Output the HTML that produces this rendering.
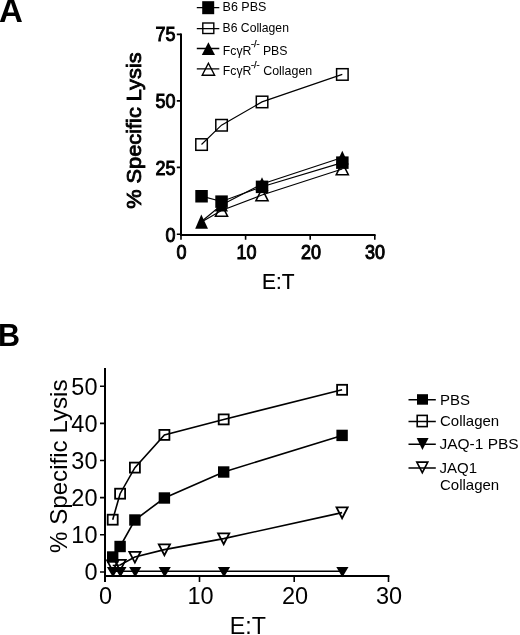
<!DOCTYPE html>
<html><head><meta charset="utf-8">
<style>
html,body{margin:0;padding:0;background:#fff;}
body{width:520px;height:635px;overflow:hidden;}
svg{display:block;filter:grayscale(1);}
text{font-family:"Liberation Sans",sans-serif;fill:#000;}
</style></head>
<body>
<svg width="520" height="635" viewBox="0 0 520 635">
<rect width="520" height="635" fill="#fff"/>
<text transform="translate(-0.90,21.90) scale(1.1,1.09)" font-size="30" font-weight="bold">A</text>
<g stroke="#000" fill="none">
<path d="M181 33.6 V235.5" stroke-width="2"/>
<path d="M180 235 H375.6" stroke-width="2"/>
<path d="M176.8 34.4 H181 M176.8 100.9 H181 M176.8 167.4 H181 M176.8 234.2 H181" stroke-width="1.6"/>
<path d="M181 235 V239.8 M245.6 235 V239.8 M310.2 235 V239.8 M374.8 235 V239.8" stroke-width="1.6"/>
</g>
<text transform="translate(175.60,41.00) scale(0.9,1)" font-size="20" text-anchor="end" stroke="#000" stroke-width="1">75</text>
<text transform="translate(175.60,108.20) scale(0.9,1)" font-size="20" text-anchor="end" stroke="#000" stroke-width="1">50</text>
<text transform="translate(175.60,175.00) scale(0.9,1)" font-size="20" text-anchor="end" stroke="#000" stroke-width="1">25</text>
<text transform="translate(175.60,241.50) scale(0.9,1)" font-size="20" text-anchor="end" stroke="#000" stroke-width="1">0</text>
<text transform="translate(181.60,258.60) scale(0.9,1)" font-size="20" text-anchor="middle" stroke="#000" stroke-width="1">0</text>
<text transform="translate(246.60,258.60) scale(0.9,1)" font-size="20" text-anchor="middle" stroke="#000" stroke-width="1">10</text>
<text transform="translate(311.00,258.60) scale(0.9,1)" font-size="20" text-anchor="middle" stroke="#000" stroke-width="1">20</text>
<text transform="translate(375.10,258.60) scale(0.9,1)" font-size="20" text-anchor="middle" stroke="#000" stroke-width="1">30</text>
<text transform="translate(262.00,289.30) scale(0.95,1)" font-size="22" stroke="#000" stroke-width="0.2">E:T</text>
<text transform="translate(141.00,208.80) rotate(-90)" font-size="20.3" stroke="#000" stroke-width="0.85" textLength="156.4" lengthAdjust="spacingAndGlyphs">% Specific Lysis</text>
<g stroke="#000" stroke-width="1.3" fill="none"><path d="M196.8 7.7 H219.3 M196.8 28.6 H219.3 M196.8 48.5 H219.3 M196.8 68.8 H219.3"/></g>
<rect x="202.2" y="1.2" width="12" height="13" fill="#000"/>
<rect x="202.8" y="23" width="11" height="10.5" fill="none" stroke="#000" stroke-width="1.4"/>
<path d="M208.4 42.2 L215 55.1 L201.8 55.1 Z" fill="#000"/>
<path d="M208.4 63.2 L214.6 75.3 L202.2 75.3 Z" fill="none" stroke="#000" stroke-width="1.4"/>
<text transform="translate(222.60,11.20)" font-size="13.3" textLength="43.8" lengthAdjust="spacingAndGlyphs">B6 PBS</text>
<text transform="translate(222.60,32.20)" font-size="13.3" textLength="66.3" lengthAdjust="spacingAndGlyphs">B6 Collagen</text>
<text transform="translate(222.80,55.00)" font-size="13.3" textLength="28.6" lengthAdjust="spacingAndGlyphs">Fc&#947;R</text>
<text transform="translate(251.00,47.40)" font-size="8.4" stroke="#000" stroke-width="0.25" textLength="8.6" lengthAdjust="spacingAndGlyphs">-/-</text>
<text transform="translate(262.90,55.00)" font-size="13.3" textLength="24.6" lengthAdjust="spacingAndGlyphs">PBS</text>
<text transform="translate(222.80,74.90)" font-size="13.3" textLength="28.6" lengthAdjust="spacingAndGlyphs">Fc&#947;R</text>
<text transform="translate(251.00,68.20)" font-size="8.4" stroke="#000" stroke-width="0.25" textLength="8.6" lengthAdjust="spacingAndGlyphs">-/-</text>
<text transform="translate(263.20,74.90)" font-size="13.3" textLength="49" lengthAdjust="spacingAndGlyphs">Collagen</text>
<g stroke="#000" stroke-width="1.15" fill="none">
  <polyline points="201.5,196.1 221.5,201.5 262,186.8 342.3,162.6"/>
  <polyline points="201.5,144.5 221.5,125.2 262,101.9 342.3,74.4"/>
  <polyline points="201.5,221.5 221.5,205 262,184 342.3,157.5"/>
  <polyline points="201.5,222 221.5,210.5 262,195 342.3,169"/>
</g>
<g fill="none" stroke="#000" stroke-width="1.5">
  <rect x="195.8" y="138.8" width="11.5" height="11.5"/>
  <rect x="215.8" y="119.5" width="11.5" height="11.5"/>
  <rect x="256.3" y="96.2" width="11.5" height="11.5"/>
  <rect x="336.6" y="68.7" width="11.5" height="11.5"/>
</g>
<g fill="none" stroke="#000" stroke-width="1.5">
  <path d="M221.5 204.2 L227.6 216.3 L215.4 216.3 Z"/>
  <path d="M262 188.7 L268.1 200.8 L255.9 200.8 Z"/>
  <path d="M342.3 162.7 L348.4 174.8 L336.2 174.8 Z"/>
</g>
<g fill="#000">
  <rect x="195.3" y="190" width="12.5" height="12.5"/>
  <rect x="215.3" y="195.4" width="12.5" height="12.5"/>
  <rect x="255.8" y="180.6" width="12.5" height="12.5"/>
  <rect x="336.1" y="156.4" width="12.5" height="12.5"/>
</g>
<g fill="#000">
  <path d="M201.3 214.6 L208 228.8 L195.2 228.8 Z"/>
  <path d="M221.5 198 L228 211.6 L215 211.6 Z"/>
  <path d="M262 177.2 L268.5 190.8 L255.5 190.8 Z"/>
  <path d="M342.3 150.8 L348.8 164.4 L335.8 164.4 Z"/>
</g>
<text transform="translate(-2.00,346.00)" font-size="30.5" font-weight="bold">B</text>
<g stroke="#000" fill="none">
  <path d="M105 368 V582" stroke-width="2"/>
  <path d="M104 576 H389.4" stroke-width="2"/>
  <path d="M100 386.3 H105 M100 423.4 H105 M100 460.5 H105 M100 497.6 H105 M100 534.7 H105 M100 572 H105" stroke-width="1.6"/>
  <path d="M199.5 576 V582 M294.2 576 V582 M388.5 576 V582" stroke-width="1.6"/>
</g>
<text transform="translate(97.50,394.50)" font-size="23.5" text-anchor="end">50</text>
<text transform="translate(97.50,431.60)" font-size="23.5" text-anchor="end">40</text>
<text transform="translate(97.50,468.70)" font-size="23.5" text-anchor="end">30</text>
<text transform="translate(97.50,505.80)" font-size="23.5" text-anchor="end">20</text>
<text transform="translate(97.50,542.90)" font-size="23.5" text-anchor="end">10</text>
<text transform="translate(97.50,580.20)" font-size="23.5" text-anchor="end">0</text>
<text transform="translate(105.50,603.90)" font-size="23.5" text-anchor="middle">0</text>
<text transform="translate(200.50,603.90)" font-size="23.5" text-anchor="middle">10</text>
<text transform="translate(295.00,603.90)" font-size="23.5" text-anchor="middle">20</text>
<text transform="translate(389.00,603.90)" font-size="23.5" text-anchor="middle">30</text>
<text transform="translate(229.70,634.00) scale(0.99,1)" font-size="23.5">E:T</text>
<text transform="translate(67.00,553.00) rotate(-90)" font-size="24" textLength="173.5" lengthAdjust="spacingAndGlyphs">% Specific Lysis</text>
<g stroke="#000" stroke-width="1.6" fill="none">
  <path d="M408.5 399.8 H435.8 M408.5 421.5 H435.8 M408.5 444.3 H435.8 M408.5 468 H435.8"/>
</g>
<rect x="417" y="394.2" width="11" height="10.5" fill="#000"/>
<rect x="417.2" y="415.4" width="10" height="11.2" fill="none" stroke="#000" stroke-width="1.6"/>
<path d="M416.7 437.9 L428.6 437.9 L422.4 450.1 Z" fill="#000"/>
<path d="M416.8 462.1 L427.8 462.1 L422.3 472.7 Z" fill="none" stroke="#000" stroke-width="1.6"/>
<text transform="translate(440.00,404.80)" font-size="15">PBS</text>
<text transform="translate(440.00,426.00)" font-size="15">Collagen</text>
<text transform="translate(439.50,449.00)" font-size="15" textLength="79.2" lengthAdjust="spacingAndGlyphs">JAQ-1 PBS</text>
<text transform="translate(439.50,472.80)" font-size="15">JAQ1</text>
<text transform="translate(440.00,490.20)" font-size="15">Collagen</text>
<g stroke="#000" stroke-width="1.6" fill="none">
<polyline points="112.7,557.0 120.1,546.5 134.9,520.0 164.4,498.0 223.7,472.0 342.1,435.4"/>
<polyline points="112.7,519.7 120.1,493.7 134.9,467.6 164.4,434.9 223.7,419.4 342.1,389.8"/>
<polyline points="112.7,571.3 120.1,571.3 134.9,571.3 164.4,571.3 223.7,571.3 342.1,571.3"/>
<polyline points="112.7,565.5 120.1,565.0 134.9,557.0 164.4,549.6 223.7,538.6 342.1,512.6"/>
</g>
<g fill="none" stroke="#000" stroke-width="1.8">
<rect x="107.70" y="514.70" width="10" height="10"/>
<rect x="115.10" y="488.70" width="10" height="10"/>
<rect x="129.90" y="462.60" width="10" height="10"/>
<rect x="159.40" y="429.90" width="10" height="10"/>
<rect x="218.70" y="414.40" width="10" height="10"/>
<rect x="337.10" y="384.80" width="10" height="10"/>
</g>
<g fill="none" stroke="#000" stroke-width="1.8" stroke-linejoin="miter">
<path d="M107.10 560.30 L118.30 560.30 L112.70 571.10 Z"/>
<path d="M114.50 559.80 L125.70 559.80 L120.10 570.60 Z"/>
<path d="M129.30 551.80 L140.50 551.80 L134.90 562.60 Z"/>
<path d="M158.80 544.40 L170.00 544.40 L164.40 555.20 Z"/>
<path d="M218.10 533.40 L229.30 533.40 L223.70 544.20 Z"/>
<path d="M336.50 507.40 L347.70 507.40 L342.10 518.20 Z"/>
</g>
<g fill="#000">
<rect x="107.00" y="551.30" width="11.4" height="11.4"/>
<rect x="114.40" y="540.80" width="11.4" height="11.4"/>
<rect x="129.20" y="514.30" width="11.4" height="11.4"/>
<rect x="158.70" y="492.30" width="11.4" height="11.4"/>
<rect x="218.00" y="466.30" width="11.4" height="11.4"/>
<rect x="336.40" y="429.70" width="11.4" height="11.4"/>
</g>
<g fill="#000">
<path d="M106.90 566.90 L119.10 566.90 L113.00 577.20 Z"/>
<path d="M114.30 566.90 L126.50 566.90 L120.40 577.20 Z"/>
<path d="M129.10 566.90 L141.30 566.90 L135.20 577.20 Z"/>
<path d="M158.60 566.90 L170.80 566.90 L164.70 577.20 Z"/>
<path d="M217.90 566.90 L230.10 566.90 L224.00 577.20 Z"/>
<path d="M336.30 566.90 L348.50 566.90 L342.40 577.20 Z"/>
</g>
</svg>
</body></html>
